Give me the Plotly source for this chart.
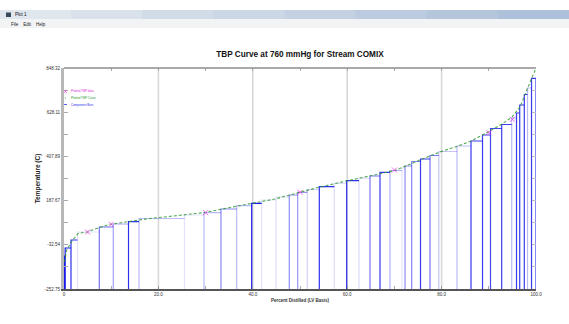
import plotly.graph_objects as go

W, H = 569, 324
ML, MR, MT, MB = 64, 33, 68, 35

title_text = "TBP Curve at 760 mmHg for Stream COMIX"
x_title = "Percent Distilled (LV Basis)"
y_title = "Temperature (C)"
window_title = "Plot 1"
menu_text = "File    Edit    Help"
legend_labels = ["Plotted TBP data", "Plotted TBP Curve", "Component Bars"]

x_ticks = [0, 20, 40, 60, 80, 100]
x_tick_text = ["0", "20.0", "40.0", "60.0", "80.0", "100.0"]
x_minor = [10, 30, 50, 70, 90]
y_ticks = [-252.75, -32.54, 187.67, 407.89, 628.11, 848.32]
y_tick_text = ["-252.75", "-32.54", "187.67", "407.89", "628.11", "848.32"]

# Component bars: cumulative LV% edges and component normal boiling points (C)
bar_edges = [0, 0.11, 0.25, 1.48, 2.86, 7.48, 10.44, 13.67, 15.89, 25.53,
             29.66, 33.26, 36.59, 39.77, 41.89, 44.92, 47.73, 49.51, 51.55, 54.09,
             57.27, 59.89, 62.50, 64.83, 66.95, 69.07, 71.61, 72.25, 73.66, 75.53,
             77.54, 79.41, 83.26, 86.23, 88.67, 90.36, 92.73, 94.85, 95.87, 96.55,
             97.52, 98.20, 99.05, 100.0]
bar_temps = [-161.5, -88.6, -48.4, -8.6, 31.3, 56.2, 71.2, 82.7, 98.6, 116.0,
             127.4, 145.9, 162.3, 174.3, 190.7, 205.7, 215.6, 229.1, 243.0, 257.0,
             273.9, 286.9, 298.8, 310.3, 328.7, 337.7, 350.1, 360.1, 382.5, 395.0,
             412.4, 432.3, 459.7, 484.6, 514.5, 546.9, 566.8, 599.2, 624.2, 664.0,
             716.4, 748.7, 797.0]
# style: shade of each component bar
bar_alpha = [1.0, 1.0, 1.0, 0.9, 0.12, 0.6, 0.4, 0.9, 0.3, 0.12,
             0.3, 0.5, 0.3, 1.0, 0.12, 0.15, 0.5, 0.45, 0.2, 0.9,
             0.15, 0.9, 0.15, 0.6, 0.85, 0.35, 0.12, 0.5, 0.55, 0.85,
             0.6, 0.25, 0.3, 0.85, 0.85, 0.8, 0.85, 0.3, 0.85, 0.85,
             0.85, 0.3, 0.85]

tbp_curve_pct = [0.11, 0.57, 1.69, 3.03, 4.94, 7.48, 9.75, 13.56, 18.22, 24.58,
                 29.87, 35.17, 39.83, 44.70, 49.36, 54.24, 59.75, 64.83, 70.13, 75.42,
                 79.66, 83.47, 86.23, 90.25, 92.80, 94.92, 96.61, 97.88, 98.94, 100.0]
tbp_curve_temp = [-118.2, -58.4, -13.6, 24.8, 31.3, 53.7, 69.6, 83.6, 98.6, 114.5,
                  128.4, 153.3, 173.3, 195.7, 225.5, 255.4, 285.3, 310.3, 337.7, 390.0,
                  429.9, 459.7, 484.6, 534.5, 569.3, 604.2, 654.0, 728.8, 788.5, 848.3]

tbp_data_pct = [5, 10, 30, 50, 70, 90, 95]
tbp_data_temp = [31.3, 69.6, 127.4, 229.1, 340.2, 526.0, 592.7]

FONT = "Liberation Sans, Arial, sans-serif"
BLUE = "25,25,235"

fig = go.Figure()
base = y_ticks[0]
n = len(bar_temps)
for i in range(n):
    x0, x1, t = bar_edges[i], bar_edges[i + 1], bar_temps[i]
    xs, ys = [x0, x0, x1], [base, t, t]
    if i == n - 1:
        xs.append(x1)
        ys.append(base)
    fig.add_trace(go.Scatter(x=xs, y=ys, mode="lines",
                             line=dict(color=f"rgba({BLUE},{bar_alpha[i]})", width=1.2),
                             showlegend=False, hoverinfo="skip", name=legend_labels[2]))

fig.add_trace(go.Scatter(x=tbp_curve_pct, y=tbp_curve_temp, mode="lines",
                         line=dict(color="rgba(40,150,40,0.8)", width=1.1, dash="3px,2px"),
                         showlegend=False, name=legend_labels[1]))
fig.add_trace(go.Scatter(x=tbp_data_pct, y=tbp_data_temp, mode="markers",
                         marker=dict(symbol="x-thin", size=5,
                                     line=dict(color="rgba(235,60,235,0.75)", width=1)),
                         showlegend=False, name=legend_labels[0]))
# companion trace for mirror (top/right) tick axes
fig.add_trace(go.Scatter(x=[None], y=[None], xaxis="x2", yaxis="y2",
                         showlegend=False, hoverinfo="skip"))

y_minor = [(a + b) / 2 for a, b in zip(y_ticks[:-1], y_ticks[1:])]


def px2x(px):
    return (px - ML) / (W - ML - MR)


def py2y(py):
    return (H - MB - py) / (H - MT - MB)


shapes = []
for g in x_ticks[1:-1]:
    shapes.append(dict(type="line", xref="x", yref="paper", x0=g, x1=g, y0=0, y1=1,
                       line=dict(color="#d6d6d6", width=1.5), layer="below"))
shapes.append(dict(type="line", xref="paper", yref="paper", x0=0, x1=1, y0=1, y1=1,
                   line=dict(color="#8c8c8c", width=1.5)))
# window chrome
strips = ["#dfe6ee", "#d9e1eb", "#d2dce8", "#cbd7e5", "#c3d1e2", "#bccbdf", "#b4c5dc", "#aec1da"]
sw = W / len(strips)
for k, c in enumerate(strips):
    shapes.append(dict(type="rect", xref="paper", yref="paper",
                       x0=px2x(k * sw), x1=px2x((k + 1) * sw + 1), y0=py2y(19), y1=py2y(10),
                       line=dict(width=0), fillcolor=c, layer="below"))
shapes.append(dict(type="rect", xref="paper", yref="paper",
                   x0=px2x(0), x1=px2x(W), y0=py2y(28), y1=py2y(19),
                   line=dict(width=0), fillcolor="#f2f3f5", layer="below"))
shapes.append(dict(type="rect", xref="paper", yref="paper",
                   x0=px2x(6), x1=px2x(11), y0=py2y(17), y1=py2y(12.5),
                   line=dict(width=0), fillcolor="#3a4a5a"))
# legend symbols
lx, ly = 65.5, [91.5, 98.0, 104.5]
shapes.append(dict(type="line", xref="paper", yref="paper", x0=px2x(lx - 1.3), x1=px2x(lx + 1.3),
                   y0=py2y(ly[0] - 1.3), y1=py2y(ly[0] + 1.3), line=dict(color="#e040e0", width=0.8)))
shapes.append(dict(type="line", xref="paper", yref="paper", x0=px2x(lx - 1.3), x1=px2x(lx + 1.3),
                   y0=py2y(ly[0] + 1.3), y1=py2y(ly[0] - 1.3), line=dict(color="#e040e0", width=0.8)))
shapes.append(dict(type="line", xref="paper", yref="paper", x0=px2x(lx - 0.5), x1=px2x(lx + 0.5),
                   y0=py2y(ly[1]), y1=py2y(ly[1]), line=dict(color="#2a9a2a", width=0.8)))
shapes.append(dict(type="line", xref="paper", yref="paper", x0=px2x(lx - 1.5), x1=px2x(lx + 1.5),
                   y0=py2y(ly[2]), y1=py2y(ly[2]), line=dict(color="#3030f0", width=0.8)))

legend_colors = ["#e030e0", "#2a9a2a", "#3030f0"]
annotations = []
for lab, col, yy in zip(legend_labels, legend_colors, ly):
    annotations.append(dict(text=lab, xref="paper", yref="paper", x=px2x(69), y=py2y(yy),
                            xanchor="left", yanchor="middle", showarrow=False,
                            font=dict(size=3, color=col, family=FONT)))
annotations.append(dict(text=window_title, xref="paper", yref="paper", x=px2x(13), y=py2y(14.8),
                        xanchor="left", yanchor="middle", showarrow=False,
                        font=dict(size=4.5, color="#111", family=FONT)))
annotations.append(dict(text=menu_text, xref="paper", yref="paper", x=px2x(9), y=py2y(24),
                        xanchor="left", yanchor="middle", showarrow=False,
                        font=dict(size=4.5, color="#222", family=FONT)))

tickfont = dict(size=4.5, color="#333", family=FONT)
fig.update_layout(
    width=W, height=H, autosize=False,
    margin=dict(l=ML, r=MR, t=MT, b=MB),
    paper_bgcolor="white", plot_bgcolor="white",
    showlegend=False,
    title=dict(text=f"<b>{title_text}</b>", x=300 / W, xanchor="center",
               y=1 - 54 / H, yanchor="middle", font=dict(size=8.2, color="#111", family=FONT)),
    xaxis=dict(range=[0, 100], tickvals=x_ticks, ticktext=x_tick_text, tickfont=tickfont,
               ticks="inside", ticklen=3, tickcolor="#999", showgrid=False, zeroline=False,
               showline=True, linecolor="#555", linewidth=2,
               minor=dict(tickvals=x_minor, ticks="inside", ticklen=3, tickcolor="#aaa"),
               title=dict(text=f"<b>{x_title}</b>", standoff=2,
                          font=dict(size=4.5, color="#333", family=FONT))),
    yaxis=dict(range=[y_ticks[0], y_ticks[-1]], tickvals=y_ticks, ticktext=y_tick_text,
               tickfont=tickfont, ticks="inside", ticklen=4, tickcolor="#aaa",
               showgrid=False, zeroline=False, showline=True, linecolor="#b8b8b8", linewidth=3,
               minor=dict(tickvals=y_minor, ticks="inside", ticklen=4, tickcolor="#aaa"),
               title=dict(text=f"<b>{y_title}</b>", standoff=4,
                          font=dict(size=6.5, color="#222", family=FONT))),
    xaxis2=dict(overlaying="x", side="top", range=[0, 100], tickvals=x_ticks + x_minor,
                ticks="inside", ticklen=3, tickcolor="#aaa", showticklabels=False,
                showgrid=False, zeroline=False, showline=False),
    yaxis2=dict(overlaying="y", side="right", range=[y_ticks[0], y_ticks[-1]],
                tickvals=y_ticks + y_minor, ticks="inside", ticklen=4, tickcolor="#bbb",
                showticklabels=False, showgrid=False, zeroline=False, showline=False),
    shapes=shapes,
    annotations=annotations,
)

fig.write_html("out.html", config={"displayModeBar": False},
               post_script="document.body.style.margin='0';")
